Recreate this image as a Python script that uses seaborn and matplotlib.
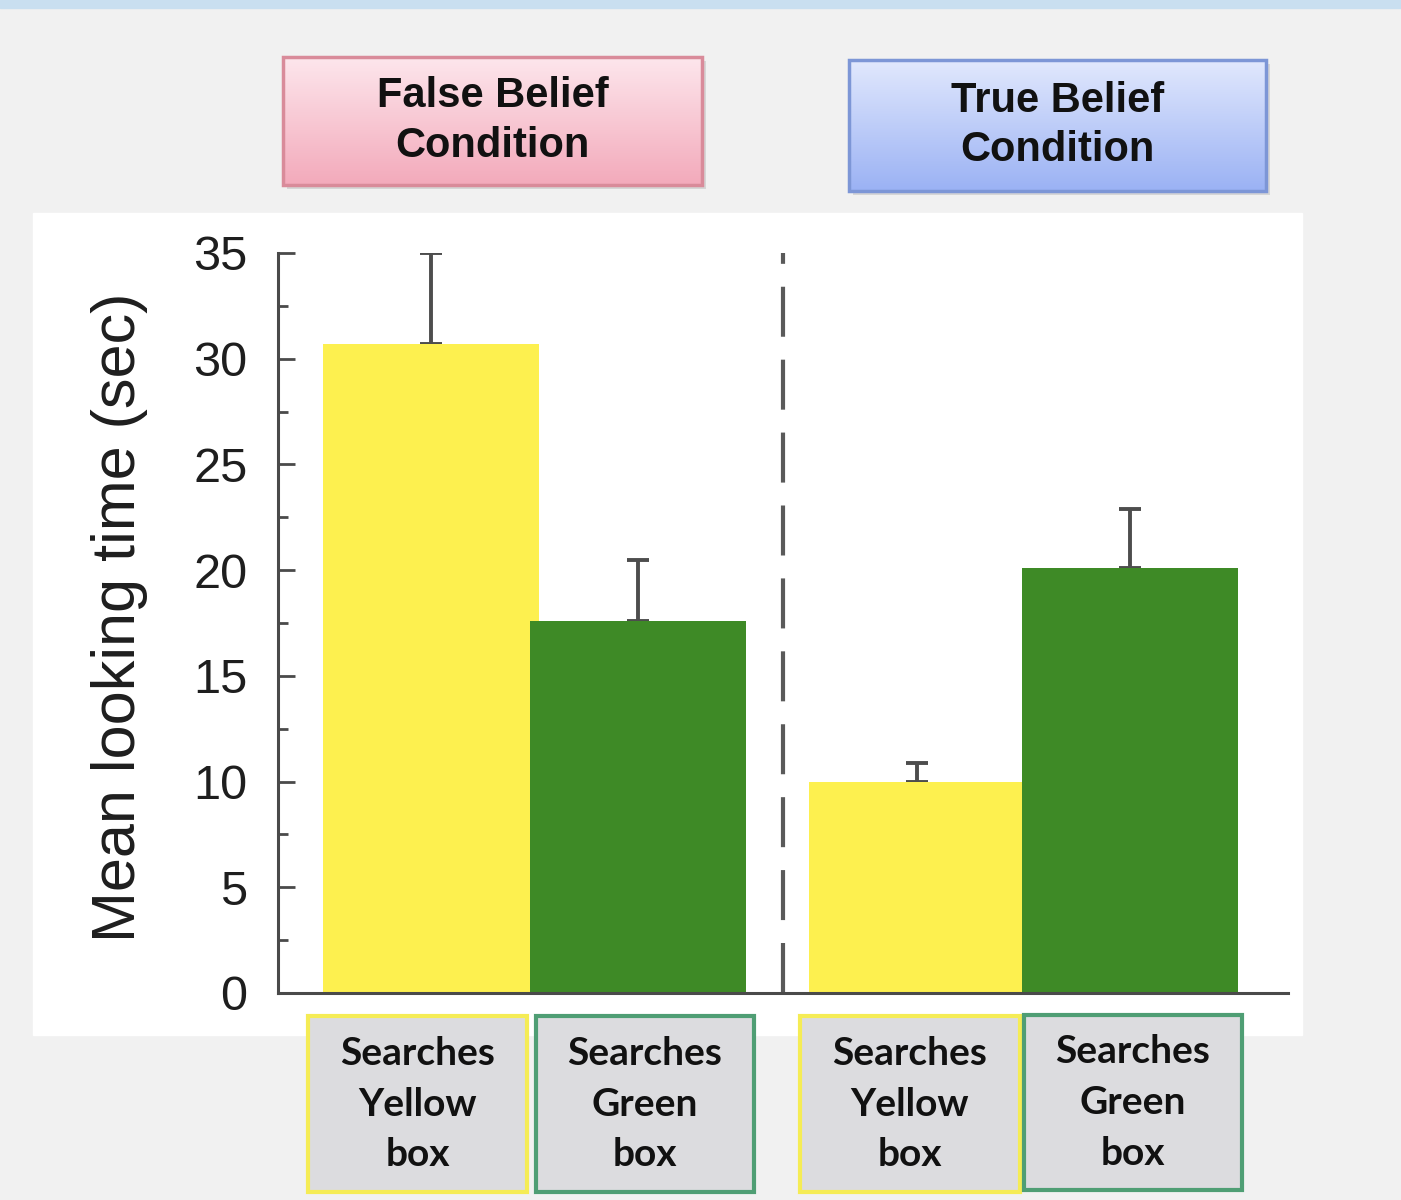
import numpy as np
import pandas as pd
import matplotlib
matplotlib.use('Agg')
import matplotlib.pyplot as plt
import seaborn as sns
from matplotlib.patches import Rectangle
from matplotlib.colors import LinearSegmentedColormap
from matplotlib.ticker import MultipleLocator

# data
conditions = ["False Belief\nCondition", "True Belief\nCondition"]
bar_labels = ["Searches\nYellow\nbox", "Searches\nGreen\nbox",
              "Searches\nYellow\nbox", "Searches\nGreen\nbox"]
box_kind = ["yellow", "green", "yellow", "green"]
means = [30.7, 17.6, 10.0, 20.1]
err_up = [4.3, 2.9, 0.9, 2.8]
y_label = "Mean looking time (sec)"

# layout (pixels of a 1401x1200 canvas)
W, H = 1401, 1200
bar_pos = [0.0, 0.986, 2.314, 3.329]
divider_x = 1.676
colors = {"yellow": "#fdf04f", "green": "#3e8a26"}
edge_colors = {"yellow": "#f5ec55", "green": "#4f9e74"}


def fig_rect(x0, y0, x1, y1):
    return [x0 / W, 1 - y1 / H, (x1 - x0) / W, (y1 - y0) / H]


sns.set_style("white")
plt.rcParams['font.family'] = ['Liberation Sans', 'DejaVu Sans']

fig = plt.figure(figsize=(W / 100, H / 100), dpi=100, facecolor='#f1f1f1')

# white panel behind the chart and light blue strip on top
r = fig_rect(33, 213, 1302, 1035)
fig.patches.append(Rectangle((r[0], r[1]), r[2], r[3], transform=fig.transFigure,
                             color='white', zorder=-10))
fig.patches.append(Rectangle((0, 1 - 8 / H), 1, 8 / H, transform=fig.transFigure,
                             color='#c9dff0', zorder=-10))

ax = fig.add_axes(fig_rect(278, 253, 1288, 993))
ax.set_facecolor('none')

df = pd.DataFrame({"pos": bar_pos, "mean": means, "box": box_kind})
sns.barplot(data=df, x="pos", y="mean", hue="box", palette=colors,
            native_scale=True, dodge=False, width=1.04, saturation=1,
            linewidth=0, errorbar=None, legend=False, ax=ax, zorder=2)

ax.errorbar(bar_pos, means, yerr=[np.zeros(len(means)), err_up], fmt='none',
            ecolor='#4d4d4d', elinewidth=2.8, capsize=8, capthick=2.8, zorder=1)

ax.axvline(divider_x, color='#5a5a5a', lw=3, dashes=(12, 5.5), zorder=1)

ax.set_xlim(-0.729, 4.081)
ax.set_ylim(0, 35)
ax.set_xticks([])
ax.set_xlabel('')
sns.despine(ax=ax)
for side in ['left', 'bottom']:
    ax.spines[side].set_linewidth(2.2)
    ax.spines[side].set_color('#4a4a4a')

ax.yaxis.set_major_locator(MultipleLocator(5))
ax.yaxis.set_minor_locator(MultipleLocator(2.5))
ax.tick_params(axis='y', which='major', direction='in', length=12, width=2,
               color='#4a4a4a', labelsize=35, pad=22, labelcolor='#1e1e1e',
               left=True)
ax.tick_params(axis='y', which='minor', direction='in', length=7, width=2,
               color='#4a4a4a', left=True)

ax.set_ylabel(y_label, fontsize=44, color='#1e1e1e')
ax.yaxis.set_label_coords(-0.129, 0.508)


# condition headers with gradient fill
def header(box, text, top, bottom, edge):
    sx = fig.add_axes(fig_rect(box[0] + 4, box[1] + 4, box[2] + 4, box[3] + 4))
    sx.set_facecolor('#d6d6d6')
    sx.set_xticks([])
    sx.set_yticks([])
    for s in sx.spines.values():
        s.set_visible(False)
    gx = fig.add_axes(fig_rect(*box))
    cmap = LinearSegmentedColormap.from_list('grad', [top, bottom])
    gx.imshow(np.linspace(0, 1, 100).reshape(-1, 1), aspect='auto', cmap=cmap,
              extent=[0, 1, 0, 1], origin='upper')
    gx.set_axis_off()
    gx.add_patch(Rectangle((0, 0), 1, 1, transform=gx.transAxes, fill=False,
                           ec=edge, lw=2.5, clip_on=False))
    gx.text(0.5, 0.5, text, transform=gx.transAxes, ha='center', va='center',
            fontsize=30, fontweight='bold', linespacing=1.32, color='#111111')


header((283, 57, 702, 185), conditions[0], '#fde6ec', '#f3aabb', '#d98b9a')
header((849, 60, 1266, 191), conditions[1], '#e1e8fd', '#9bb2f4', '#7d96d6')

# label boxes under each bar
label_boxes = [(308, 1016, 527, 1192), (536, 1016, 754, 1192),
               (800, 1016, 1020, 1192), (1024, 1015, 1242, 1190)]
for b, lab, kind in zip(label_boxes, bar_labels, box_kind):
    rr = fig_rect(*b)
    fig.patches.append(Rectangle((rr[0], rr[1]), rr[2], rr[3],
                                 transform=fig.transFigure, fc='#dcdcdf',
                                 ec=edge_colors[kind], lw=3, zorder=1))
    fig.text(rr[0] + rr[2] / 2, rr[1] + rr[3] / 2, lab, ha='center', va='center',
             fontsize=28, fontweight='bold', family=['Lato', 'DejaVu Sans'],
             linespacing=1.55, color='#111111')

fig.savefig('out.png', dpi=100, facecolor=fig.get_facecolor())
